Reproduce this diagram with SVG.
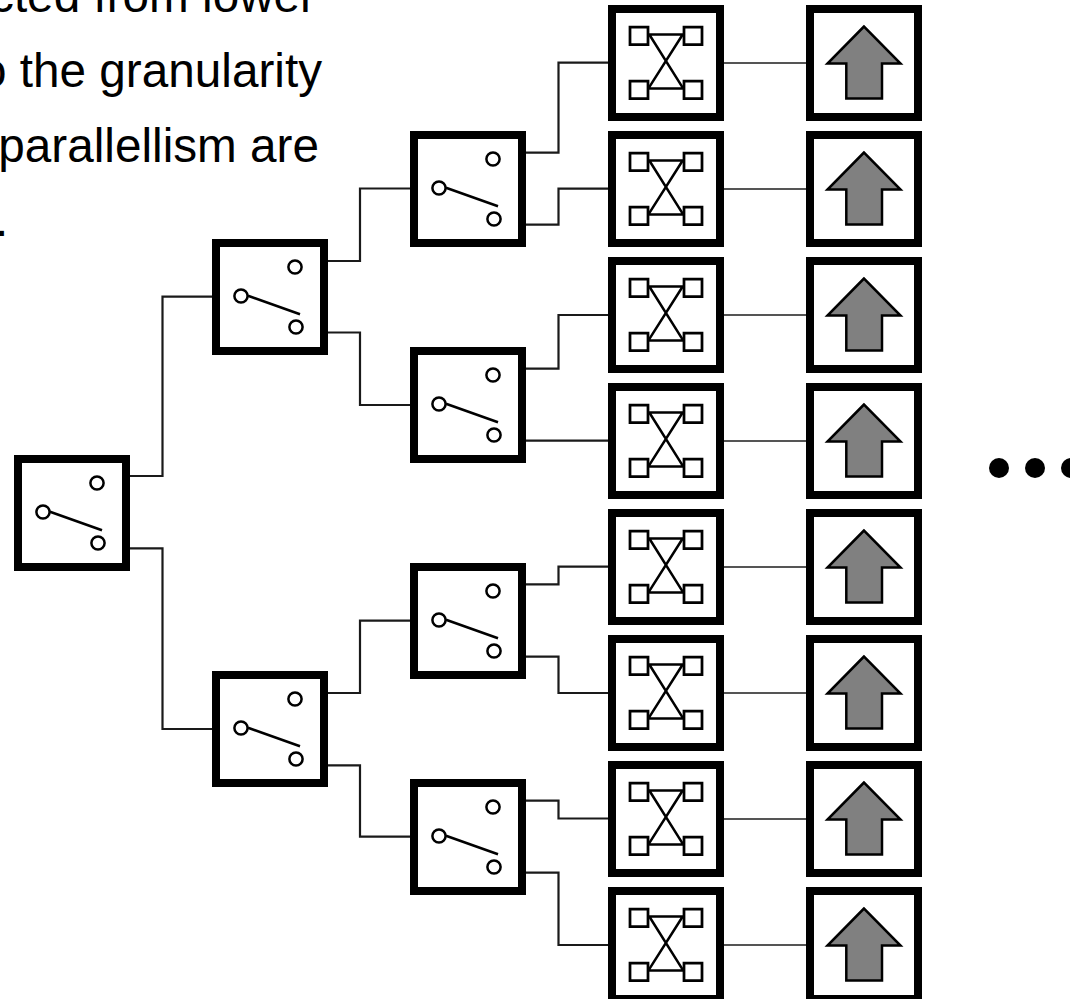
<svg xmlns="http://www.w3.org/2000/svg" width="1070" height="999" viewBox="0 0 1070 999">
<style>
text{font-family:"Liberation Sans",Arial,sans-serif;font-size:47.7px;fill:#000}
.b{fill:#fff;stroke:#000;stroke-width:8}
.c{fill:#fff;stroke:#000;stroke-width:2.5}
.s{fill:#fff;stroke:#000;stroke-width:2.75}
.l{fill:none;stroke:#000;stroke-width:2.5}
.w{fill:none;stroke:#1a1a1a;stroke-width:2.2}
.t{fill:none;stroke:#555;stroke-width:2}
.a{fill:#808080;stroke:#000;stroke-width:2.5}
</style>
<defs>
<g id="sw"><rect class="b" x="4" y="4" width="108" height="108"/><path class="l" d="M36 56.7L88 75.3"/><circle class="c" cx="83" cy="28" r="6.6"/><circle class="c" cx="29" cy="57" r="6.6"/><circle class="c" cx="84" cy="88" r="6.6"/></g>
<g id="xb"><rect class="b" x="4" y="4" width="108" height="108"/><path class="s" d="M22 22h18v17.5h-18zM76 22h18v17.5h-18zM22 76h18v17.5h-18zM76 76h18v17.5h-18z"/><path class="l" d="M41 29.5H75.5M41 83.5H75.5M41.3 29.5L75.3 83.7M74.7 29.5L40.3 83.7"/></g>
<g id="ar"><rect class="b" x="4" y="4" width="108" height="108"/><path class="a" d="M58 21.5L21.5 58.5H40.3V93.5H76V58.5H94.5Z"/></g>
</defs>
<g id="text"><text x="316" y="12" text-anchor="end">cted from lower</text><text x="322" y="87" text-anchor="end">o the granularity</text><text x="319" y="162" text-anchor="end">parallellism are</text><text x="-5" y="236">.</text></g>
<g id="connectors">
<path class="w" d="M130 476H162.5V296.7H212M130 548.3H162.5V729H212M328 261H360V188.5H410M328 332.5H360V405H410M328 693H360V620.7H410M328 765.3H360V836.7H410M526 152.7H558.5V62.7H608M526 224.7H558.5V188.7H608M526 368.7H558.5V315H608M526 440.7H608M526 584.3H558.5V566.7H608M526 656.7H558.5V693H608M526 800.7H558.5V818.5H608M526 872.7H558.5V945H608"/>
<path class="t" d="M724 63H806M724 189H806M724 315H806M724 441H806M724 567H806M724 693H806M724 819H806M724 945H806"/>
</g>
<g id="s0"><use href="#sw" x="14" y="455"/></g>
<g id="s1"><use href="#sw" x="212" y="239"/></g>
<g id="s2"><use href="#sw" x="212" y="671"/></g>
<g id="s3"><use href="#sw" x="410" y="131"/></g>
<g id="s4"><use href="#sw" x="410" y="347"/></g>
<g id="s5"><use href="#sw" x="410" y="563"/></g>
<g id="s6"><use href="#sw" x="410" y="779"/></g>
<g id="x1"><use href="#xb" x="608" y="5"/></g>
<g id="x2"><use href="#xb" x="608" y="131"/></g>
<g id="x3"><use href="#xb" x="608" y="257"/></g>
<g id="x4"><use href="#xb" x="608" y="383"/></g>
<g id="x5"><use href="#xb" x="608" y="509"/></g>
<g id="x6"><use href="#xb" x="608" y="635"/></g>
<g id="x7"><use href="#xb" x="608" y="761"/></g>
<g id="x8"><use href="#xb" x="608" y="887"/></g>
<g id="a1"><use href="#ar" x="806" y="5"/></g>
<g id="a2"><use href="#ar" x="806" y="131"/></g>
<g id="a3"><use href="#ar" x="806" y="257"/></g>
<g id="a4"><use href="#ar" x="806" y="383"/></g>
<g id="a5"><use href="#ar" x="806" y="509"/></g>
<g id="a6"><use href="#ar" x="806" y="635"/></g>
<g id="a7"><use href="#ar" x="806" y="761"/></g>
<g id="a8"><use href="#ar" x="806" y="887"/></g>
<g id="dots"><circle cx="999" cy="468" r="10"/><circle cx="1035" cy="468" r="10"/><circle cx="1071" cy="468" r="10"/></g>
</svg>
